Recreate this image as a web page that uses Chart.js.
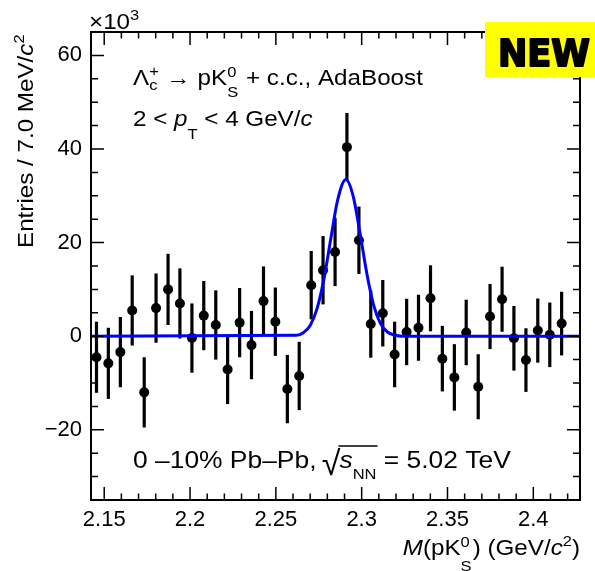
<!DOCTYPE html>
<html>
<head>
<meta charset="utf-8">
<script src="https://cdn.jsdelivr.net/npm/chart.js@4.4.1/dist/chart.umd.min.js"></script>
<style>
  body { margin: 0; background: #fff; }
  canvas { display: block; }
</style>
</head>
<body>
<canvas id="massPlot" width="595" height="571"></canvas>
<script>
const FF = '"Liberation Sans", Arial, Helvetica, sans-serif';
const STRETCH = 1.1;

// invariant mass bin centres (GeV/c^2)
let massBins = [2.1455, 2.1524, 2.1594, 2.1663, 2.1733, 2.1802, 2.1872, 2.1941, 2.2011, 2.2080,
                2.2150, 2.2219, 2.2289, 2.2358, 2.2428, 2.2497, 2.2567, 2.2636, 2.2706, 2.2775,
                2.2845, 2.2914, 2.2984, 2.3053, 2.3123, 2.3192, 2.3262, 2.3331, 2.3401, 2.3470,
                2.3540, 2.3609, 2.3679, 2.3748, 2.3818, 2.3887, 2.3957, 2.4026, 2.4096, 2.4165];

// background-subtracted entries (x10^3)
let entries = [-4.5, -5.8, -3.4, 5.5, -12.0, 6.0, 10.0, 7.0, -0.4, 4.4,
               2.4, -7.1, 2.9, -1.9, 7.5, 3.1, -11.3, -8.5, 10.9, 14.1,
               18.0, 40.4, 20.5, 2.6, 4.9, -3.9, 0.9, 1.8, 8.1, -4.8,
               -8.8, 0.8, -10.8, 4.2, 7.9, -0.45, -5.1, 1.2, 0.3, 2.7];

let errors = [7.6, 7.6, 7.5, 7.5, 7.5, 7.4, 7.6, 7.5, 7.4, 7.4,
              7.4, 7.4, 7.4, 7.3, 7.4, 7.3, 7.3, 7.3, 7.3, 7.3,
              7.3, 7.3, 7.2, 7.2, 7.1, 7.0, 7.1, 7.05, 7.05, 7.0,
              7.1, 7.0, 6.95, 6.95, 6.95, 6.9, 6.8, 6.85, 6.9, 6.8];

// fit curve
let fitMass = [2.1423, 2.262, 2.266, 2.270, 2.274, 2.278, 2.282, 2.286, 2.2908,
               2.295, 2.299, 2.303, 2.307, 2.311, 2.315, 2.319, 2.324, 2.4272];
let fitValues = [0, 0.2, 0.75, 2.3, 5.9, 12.2, 20.8, 29.1, 33.5,
                 30.0, 22.1, 13.4, 6.6, 2.7, 0.9, 0.25, 0, 0];

let xTickLabels = [2.15, 2.2, 2.25, 2.3, 2.35, 2.4];
let yTickLabels = [-20, 0, 20, 40, 60];

// draws a run of text parts from the origin, returns end x
function rich(ctx, parts, size, draw) {
    let cx = 0;
    for (const p of parts) {
        if (p.ss) {
            ctx.font = (p.ss[2] || 15) + 'px ' + FF;
            const w1 = ctx.measureText(p.ss[0]).width;
            const w2 = ctx.measureText(p.ss[1]).width;
            if (draw) {
                ctx.fillText(p.ss[0], cx, p.up);
                ctx.fillText(p.ss[1], cx, p.dn);
            }
            cx += Math.max(w1, w2) + 1;
        } else {
            ctx.font = (p.i ? 'italic ' : '') + (p.s || size) + 'px ' + FF;
            if (draw) ctx.fillText(p.t, cx, p.dy || 0);
            cx += ctx.measureText(p.t).width;
        }
    }
    return cx;
}

// stretched text at x, y; returns end x in page coords
function label(ctx, x, y, parts, size) {
    ctx.save();
    ctx.translate(x, y);
    ctx.scale(STRETCH, 1);
    const w = rich(ctx, parts, size, true);
    ctx.restore();
    return x + w * STRETCH;
}

function labelWidth(ctx, parts, size) {
    return rich(ctx, parts, size, false) * STRETCH;
}

const decorations = {
    id: 'decorations',
    beforeDatasetsDraw(chart) {
        const ctx = chart.ctx, xs = chart.scales.x, ys = chart.scales.y;
        ctx.save();
        ctx.strokeStyle = '#000';
        ctx.lineWidth = 3.2;
        massBins.forEach((m, i) => {
            const px = xs.getPixelForValue(m);
            ctx.beginPath();
            ctx.moveTo(px, ys.getPixelForValue(entries[i] + errors[i]));
            ctx.lineTo(px, ys.getPixelForValue(entries[i] - errors[i]));
            ctx.stroke();
        });
        ctx.restore();
    },
    afterDraw(chart) {
        const ctx = chart.ctx, xs = chart.scales.x, ys = chart.scales.y;
        const a = chart.chartArea;
        ctx.save();
        ctx.strokeStyle = '#000';
        ctx.fillStyle = '#000';

        // inward ticks
        ctx.lineWidth = 1.5;
        ctx.beginPath();
        for (let k = 215; k <= 242; k++) {
            const v = k / 100, px = xs.getPixelForValue(v);
            const len = (k % 5 === 0) ? 13 : 6.5;
            ctx.moveTo(px, a.bottom); ctx.lineTo(px, a.bottom - len);
            ctx.moveTo(px, a.top); ctx.lineTo(px, a.top + len);
        }
        for (let v = -35; v <= 65; v += 5) {
            const py = ys.getPixelForValue(v);
            const len = (v % 20 === 0) ? 13 : 7;
            ctx.moveTo(a.left, py); ctx.lineTo(a.left + len, py);
            ctx.moveTo(a.right, py); ctx.lineTo(a.right - len, py);
        }
        ctx.stroke();

        // frame
        ctx.lineWidth = 2;
        ctx.strokeRect(a.left, a.top, a.right - a.left, a.bottom - a.top);

        ctx.textBaseline = 'alphabetic';
        ctx.textAlign = 'left';

        // exponent
        label(ctx, 89, 29, [{t: '\u00d710'}, {t: '3', s: 15, dy: -9}], 22);

        // y title
        ctx.save();
        ctx.translate(33, 248);
        ctx.rotate(-Math.PI / 2);
        label(ctx, 0, 0, [{t: 'Entries / 7.0 MeV/'}, {t: 'c', i: true}, {t: '2', s: 15, dy: -9}], 22);
        ctx.restore();

        // labels
        label(ctx, 133, 85, [
            {t: '\u039b'}, {ss: ['+', 'c'], up: -9, dn: 5},
            {t: ' \u2192 pK'}, {ss: ['0', 'S'], up: -8, dn: 12},
            {t: ' + c.c., AdaBoost'}
        ], 22);
        label(ctx, 133, 126, [
            {t: '2 < '}, {t: 'p', i: true}, {t: 'T', s: 15, dy: 13}, {t: ' < 4 GeV/'}, {t: 'c', i: true}
        ], 22);

        let ex = label(ctx, 133, 468, [{t: '0 \u201310% Pb\u2013Pb, '}], 24);
        ctx.font = '34px ' + FF;
        ctx.fillText('\u221a', ex - 2, 475);
        const sx = ex + ctx.measureText('\u221a').width - 3;
        const sParts = [{t: 's', i: true}, {t: 'NN', s: 15, dy: 11}];
        const sEnd = sx + labelWidth(ctx, sParts, 24);
        ctx.lineWidth = 1.5;
        ctx.beginPath();
        ctx.moveTo(sx - 1, 446); ctx.lineTo(sEnd + 1, 446);
        ctx.stroke();
        label(ctx, sx, 468, sParts.concat([{t: ' = 5.02 TeV'}]), 24);

        // x title, right aligned
        const xParts = [
            {t: 'M', i: true}, {t: '(pK'}, {ss: ['0', 'S'], up: -8, dn: 16},
            {t: ') (GeV/'}, {t: 'c', i: true}, {t: '2', s: 15, dy: -9}, {t: ')'}
        ];
        const w = labelWidth(ctx, xParts, 22);
        label(ctx, 580 - w, 555, xParts, 22);

        // NEW badge
        ctx.fillStyle = '#ffff00';
        ctx.fillRect(485, 22, 115, 55);
        ctx.fillStyle = '#000';
        ctx.strokeStyle = '#000';
        ctx.font = 'bold 38px "DejaVu Sans", sans-serif';
        const nw = ctx.measureText('NEW').width;
        ctx.save();
        ctx.translate(498, 66);
        ctx.scale(92 / nw, 1);
        ctx.lineWidth = 2;
        ctx.lineJoin = 'round';
        ctx.fillText('NEW', 0, 0);
        ctx.strokeText('NEW', 0, 0);
        ctx.restore();

        ctx.restore();
    }
};

let dataPoints = massBins.map((m, i) => ({x: m, y: entries[i]}));
let fitPoints = fitMass.map((m, i) => ({x: m, y: fitValues[i]}));

let MassChart = new Chart(document.getElementById('massPlot'), {
    type: 'scatter',
    data: {
        datasets: [
            {
                data: fitPoints,
                showLine: true,
                borderColor: '#0000ff',
                borderWidth: 3,
                pointRadius: 0,
                cubicInterpolationMode: 'monotone',
                order: 1
            },
            {
                data: dataPoints,
                pointRadius: 5,
                backgroundColor: '#000',
                borderWidth: 0,
                order: 2
            }
        ]
    },
    options: {
        responsive: false,
        animation: false,
        layout: { padding: { left: 0, top: 32, right: 15, bottom: 0 } },
        scales: {
            x: {
                type: 'linear',
                min: 2.1423,
                max: 2.4272,
                grid: { display: false, drawTicks: false },
                border: { display: false },
                afterBuildTicks: (s) => { s.ticks = xTickLabels.map(v => ({value: v})); },
                afterFit: (s) => { s.height = 71; },
                ticks: {
                    color: '#000',
                    padding: 7,
                    maxRotation: 0,
                    autoSkip: false,
                    font: { family: FF, size: 22 },
                    callback: (v) => String(v)
                }
            },
            y: {
                min: -35,
                max: 65,
                grid: { display: false, drawTicks: false },
                border: { display: false },
                afterBuildTicks: (s) => { s.ticks = yTickLabels.map(v => ({value: v})); },
                afterFit: (s) => { s.width = 91; },
                ticks: {
                    color: '#000',
                    padding: 9,
                    autoSkip: false,
                    font: { family: FF, size: 22 },
                    callback: (v) => v < 0 ? '\u2212' + Math.abs(v) : String(v)
                }
            }
        },
        plugins: {
            legend: { display: false },
            tooltip: { enabled: false }
        }
    },
    plugins: [decorations]
});
</script>
</body>
</html>
